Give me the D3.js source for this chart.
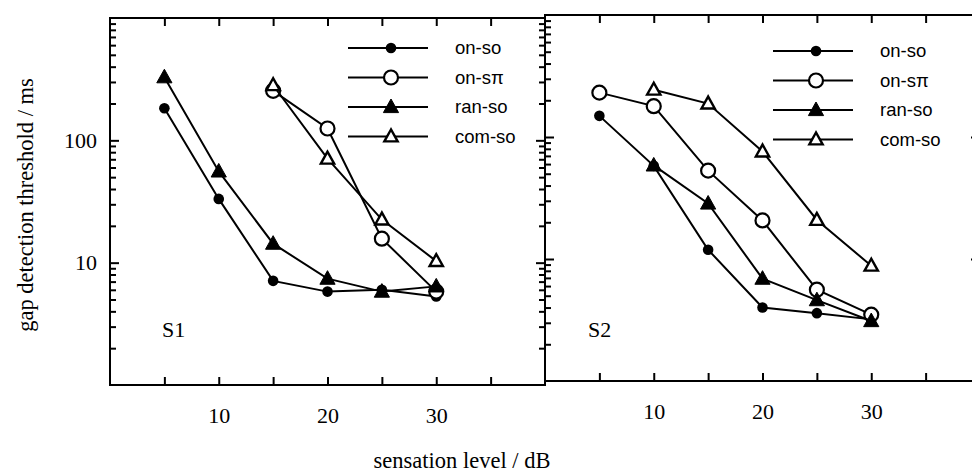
<!DOCTYPE html>
<html><head><meta charset="utf-8">
<script src="https://cdn.jsdelivr.net/npm/d3@7"></script>
<style>html,body{margin:0;padding:0;background:#fff;}svg{display:block;}</style>
</head><body>
<svg id="chart" width="972" height="473"></svg>
<script>
// ---- data ----
const levels = [5, 10, 15, 20, 25, 30];           // sensation level / dB
const xTickLabels = [10, 20, 30];
const yTickLabels = [10, 100];
const seriesNames = ["on-so", "on-s\u03c0", "ran-so", "com-so"];
const panelNames = ["S1", "S2"];

// S1 (null = not measured)
const s1OnSo  = [183, 33.2, 7.1, 5.8, 6.0, 5.3];
const s1OnSpi = [null, null, 254, 125, 15.7, 5.8];
const s1RanSo = [328, 55.7, 14.3, 7.4, 5.8, 6.4];
const s1ComSo = [null, null, 282, 70.8, 22.5, 10.3];
// S2
const s2OnSo  = [149, 58, 11.9, 4.0, 3.6, 3.2];
const s2OnSpi = [231, 179, 53, 20.7, 5.6, 3.5];
const s2RanSo = [null, 58.5, 28.5, 6.9, 4.6, 3.1];
const s2ComSo = [null, 244, 188, 76, 20.9, 8.8];

const panelData = [
  [s1OnSo, s1OnSpi, s1RanSo, s1ComSo],
  [s2OnSo, s2OnSpi, s2RanSo, s2ComSo]
];
const markerTypes = ["dot", "circle", "triFilled", "triOpen"];

// ---- layout ----
const svg = d3.select("#chart");
const serif = "'Liberation Serif','Times New Roman',serif";
const sans = "'Liberation Sans',Arial,sans-serif";
const panels = [
  {x0: 110, x1: 545, y0: 18, y1: 385, legX: 348, legY: 48, label: [162, 337]},
  {x0: 545, x1: 980, y0: 15, y1: 381, legX: 773, legY: 51, label: [588, 337]}
];

function drawMarker(g, type, cx, cy) {
  if (type === "dot") {
    g.append("circle").attr("cx", cx).attr("cy", cy).attr("r", 5.3).attr("fill", "#000");
  } else if (type === "circle") {
    g.append("circle").attr("cx", cx).attr("cy", cy).attr("r", 7).attr("fill", "#fff")
      .attr("stroke", "#000").attr("stroke-width", 2.2);
  } else {
    const filled = type === "triFilled";
    const s = filled ? 8 : 7;
    const p = [[cx, cy - s], [cx - s * 0.95, cy + s * 0.7], [cx + s * 0.95, cy + s * 0.7]];
    g.append("path").attr("d", "M" + p.join("L") + "Z")
      .attr("fill", filled ? "#000" : "#fff").attr("stroke", "#000")
      .attr("stroke-width", filled ? 1 : 2.4).attr("stroke-linejoin", "miter");
  }
}

panels.forEach((P, pi) => {
  const x = d3.scaleLinear().domain([0, 40]).range([P.x0, P.x1]);
  const y = d3.scaleLog().domain([1, 1000]).range([P.y1, P.y0]);
  const g = svg.append("g");

  // frame
  g.append("rect").attr("x", P.x0).attr("y", P.y0).attr("width", P.x1 - P.x0).attr("height", P.y1 - P.y0)
    .attr("fill", "none").attr("stroke", "#000").attr("stroke-width", 2);

  const yTicks = y.ticks().filter(v => v > 1 && v < 1000);
  const isMajor = v => Math.abs(Math.log10(v) - Math.round(Math.log10(v))) < 1e-9;
  // y ticks, inward, both sides
  [P.x0, P.x1].forEach((ax, side) => {
    const axis = (side === 0 ? d3.axisLeft(y) : d3.axisRight(y))
      .tickValues(yTicks).tickFormat("").tickSizeOuter(0);
    const ag = g.append("g").attr("transform", `translate(${ax},0)`).call(axis);
    ag.select(".domain").remove();
    ag.selectAll(".tick line")
      .attr("x2", d => (side === 0 ? 1 : -1) * (isMajor(d) ? 9 : 6))
      .attr("stroke", "#000").attr("stroke-width", 2);
  });
  // x ticks, inward, top and bottom
  const xTicks = d3.range(5, 40, 5);
  [P.y0, P.y1].forEach((ay, side) => {
    const axis = (side === 0 ? d3.axisTop(x) : d3.axisBottom(x)).tickValues(xTicks).tickFormat("");
    const ag = g.append("g").attr("transform", `translate(0,${ay})`).call(axis);
    ag.select(".domain").remove();
    ag.selectAll(".tick line").attr("y2", side === 0 ? 8 : -8).attr("stroke", "#000").attr("stroke-width", 2);
  });

  // x tick labels
  const xl = d3.axisBottom(x).tickValues(xTickLabels).tickSize(0).tickPadding(0);
  const xg = g.append("g").attr("transform", `translate(0,${P.y1 + 22})`).call(xl);
  xg.select(".domain").remove();
  xg.selectAll("text").attr("font-family", serif).attr("font-size", 22).attr("fill", "#000").attr("dy", "0.71em");

  if (pi === 0) {
    const yl = d3.axisLeft(y).tickValues(yTickLabels).tickFormat(d3.format("d")).tickSize(0).tickPadding(13);
    const yg = g.append("g").attr("transform", `translate(${P.x0},0)`).call(yl);
    yg.select(".domain").remove();
    yg.selectAll("text").attr("font-family", serif).attr("font-size", 22).attr("fill", "#000");
  }

  // series
  panelData[pi].forEach((vals, si) => {
    const pts = levels.map((l, i) => [l, vals[i]]).filter(d => d[1] != null);
    const line = d3.line().x(d => x(d[0])).y(d => y(d[1]));
    g.append("path").attr("d", line(pts)).attr("fill", "none").attr("stroke", "#000").attr("stroke-width", 2);
    pts.forEach(d => drawMarker(g, markerTypes[si], x(d[0]), y(d[1])));
  });

  // legend
  seriesNames.forEach((name, si) => {
    const ly = P.legY + si * 29.5;
    g.append("line").attr("x1", P.legX).attr("x2", P.legX + 80).attr("y1", ly).attr("y2", ly)
      .attr("stroke", "#000").attr("stroke-width", 2);
    drawMarker(g, markerTypes[si], P.legX + 43, ly);
    g.append("text").attr("x", P.legX + 107).attr("y", ly).attr("dy", "0.35em")
      .attr("font-family", sans).attr("font-size", 18.5).attr("fill", "#000").text(name);
  });

  g.append("text").attr("x", P.label[0]).attr("y", P.label[1]).attr("font-family", serif)
    .attr("font-size", 22).attr("fill", "#000").text(panelNames[pi]);
});

// axis titles
svg.append("text").attr("transform", "translate(33,205) rotate(-90)").attr("text-anchor", "middle")
  .attr("font-family", serif).attr("font-size", 22.5).attr("fill", "#000").text("gap detection threshold / ms");
svg.append("text").attr("x", 462).attr("y", 468).attr("text-anchor", "middle")
  .attr("font-family", serif).attr("font-size", 22.5).attr("fill", "#000").text("sensation level / dB");
</script>
</body></html>
